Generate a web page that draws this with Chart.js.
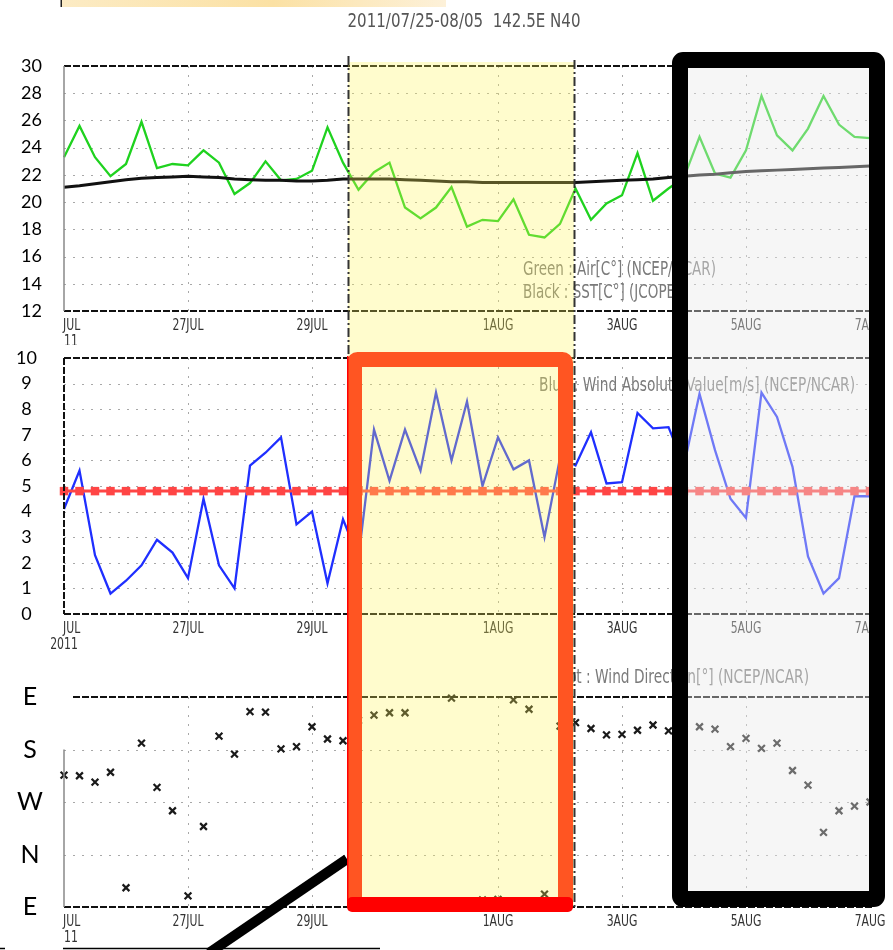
<!DOCTYPE html>
<html>
<head>
<meta charset="utf-8">
<script src="https://cdn.jsdelivr.net/npm/chart.js@4.4.1/dist/chart.umd.min.js"></script>
<style>
  body { margin: 0; background: #fff; width: 893px; height: 950px; overflow: hidden; position: relative; }
  canvas { position: absolute; left: 0; }
</style>
</head>
<body>
<canvas id="airChart" width="893" height="305" style="top:40px"></canvas>
<canvas id="windChart" width="893" height="315" style="top:340px"></canvas>
<canvas id="dirChart" width="893" height="295" style="top:655px"></canvas>
<canvas id="marks" width="893" height="950" style="top:0"></canvas>
<script>
// 6-hourly steps from 25JUL 00Z to 7AUG 00Z
const dayNames = ['25JUL','26JUL','27JUL','28JUL','29JUL','30JUL','31JUL','1AUG','2AUG','3AUG','4AUG','5AUG','6AUG'];
const times = [];
dayNames.forEach(d => ['00Z','06Z','12Z','18Z'].forEach(h => times.push(d + ' ' + h)));
times.push('7AUG 00Z');

const tickDays = ['25JUL','27JUL','29JUL','1AUG','3AUG','5AUG','7AUG'];

// Green : Air[C] (NCEP/NCAR)
const airTemp = [23.3, 25.6, 23.3, 21.9, 22.8, 25.9, 22.5, 22.8, 22.7, 23.8,
                 22.9, 20.6, 21.4, 23.0, 21.6, 21.7, 22.3, 25.5, 22.9, 20.9,
                 22.2, 22.9, 19.6, 18.8, 19.6, 21.1, 18.2, 18.7, 18.6, 20.2,
                 17.6, 17.4, 18.4, 21.0, 18.7, 19.9, 20.5, 23.6, 20.1, 21.0,
                 21.8, 24.8, 22.1, 21.8, 23.8, 27.8, 24.9, 23.8, 25.4, 27.8,
                 25.7, 24.8, 24.7];
// Black : SST[C] (JCOPE)
const sst = [21.1, 21.2, 21.35, 21.5, 21.65, 21.75, 21.8, 21.85, 21.9, 21.85,
             21.8, 21.7, 21.65, 21.6, 21.6, 21.55, 21.55, 21.6, 21.7, 21.7,
             21.7, 21.7, 21.65, 21.6, 21.55, 21.5, 21.5, 21.45, 21.45, 21.45,
             21.45, 21.45, 21.45, 21.45, 21.5, 21.55, 21.6, 21.65, 21.7, 21.8,
             21.9, 22.0, 22.05, 22.15, 22.25, 22.3, 22.35, 22.4, 22.45, 22.5,
             22.55, 22.6, 22.65];
// Blue : Wind Absolute Value[m/s] (NCEP/NCAR)
const windSpeed = [4.1, 5.6, 2.3, 0.8, 1.3, 1.9, 2.9, 2.4, 1.4, 4.5,
                   1.9, 1.0, 5.8, 6.3, 6.9, 3.5, 4.0, 1.2, 3.7, 2.2,
                   7.2, 5.2, 7.2, 5.6, 8.65, 6.0, 8.3, 5.0, 6.9, 5.65,
                   6.0, 3.0, 6.1, 5.8, 7.1, 5.1, 5.15, 7.85, 7.25, 7.3,
                   5.8, 8.6, 6.4, 4.5, 3.75, 8.65, 7.7, 5.75, 2.25, 0.8,
                   1.4, 4.6, 4.6];
const windLevel = 4.8;
// Dot : Wind Direction[deg] (NCEP/NCAR)
const windDir = [226, 225, 214, 231, 33, 281, 205, 165, 19, 138,
                 293, 262, 335, 334, 271, 275, 309, 288, 285, 320,
                 329, 333, 333, 4, 6, 358, 2, 12, 13, 355,
                 339, 22, 310, 316, 306, 295, 296, 303, 312, 302,
                 305, 309, 305, 275, 289, 272, 281, 234, 209, 128,
                 165, 173, 180];
const dirTicks = {0: 'E', 90: 'N', 180: 'W', 270: 'S', 360: 'E'};

const GRADS = '"Liberation Sans Narrow", "DejaVu Sans Condensed", sans-serif';

function textK(ctx, str, size, width) {
  ctx.save();
  ctx.font = size + 'px ' + GRADS;
  const k = width / ctx.measureText(str).width;
  ctx.restore();
  return k;
}
function fitText(ctx, str, x, y, size, k, align, color) {
  ctx.save();
  ctx.font = size + 'px ' + GRADS;
  ctx.fillStyle = color;
  ctx.textBaseline = 'middle';
  ctx.textAlign = 'left';
  const w = ctx.measureText(str).width * k;
  const x0 = align === 'left' ? x : align === 'right' ? x - w : x - w / 2;
  ctx.translate(x0, y);
  ctx.scale(k, 1);
  ctx.fillText(str, 0, 0);
  ctx.restore();
}
function seg(ctx, x1, y1, x2, y2) {
  ctx.beginPath(); ctx.moveTo(x1, y1); ctx.lineTo(x2, y2); ctx.stroke();
}

function decor(cfg) {
  return {
    id: 'decor',
    beforeDatasetsDraw(chart) {
      const {ctx, chartArea: a, scales: {x, y}} = chart;
      ctx.save();
      ctx.strokeStyle = '#a8a8a8';
      ctx.lineWidth = 1;
      ctx.setLineDash([2, 7]);
      cfg.gridY.forEach(v => {
        const py = Math.round(y.getPixelForValue(v)) + 0.5;
        seg(ctx, a.left, py, a.right, py);
      });
      tickDays.slice(1).forEach(d => {
        const px = Math.round(x.getPixelForValue(times.indexOf(d + ' 00Z'))) + 0.5;
        seg(ctx, px, a.top, px, a.bottom);
      });
      ctx.restore();
    },
    afterDraw(chart) {
      const {ctx, chartArea: a, scales: {x}} = chart;
      ctx.save();
      // frame
      ctx.strokeStyle = '#111';
      ctx.lineWidth = 2;
      ctx.setLineDash([7, 2]);
      seg(ctx, cfg.topFrom || a.left, a.top, a.right, a.top);
      seg(ctx, a.left, a.bottom, a.right + (cfg.bottomExtra || 0), a.bottom);
      ctx.setLineDash(cfg.leftDash ? [7, 2] : []);
      ctx.strokeStyle = cfg.leftDash ? '#111' : '#888';
      ctx.lineWidth = cfg.leftDash ? 2 : 1.5;
      seg(ctx, a.left, cfg.leftFrom ? chart.scales.y.getPixelForValue(cfg.leftFrom) : a.top, a.left, a.bottom);
      ctx.restore();

      // time labels
      const kx = textK(ctx, '27JUL', 15, 31);
      tickDays.forEach((d, j) => {
        const px = x.getPixelForValue(times.indexOf(d + ' 00Z'));
        if (j === 0) {
          fitText(ctx, 'JUL', px - 1, a.bottom + 15, 15, kx, 'left', '#333');
          if (cfg.fullYear) fitText(ctx, '2011', px, a.bottom + 31, 15, kx, 'center', '#333');
          else fitText(ctx, '11', px, a.bottom + 31, 15, kx, 'left', '#333');
        } else {
          fitText(ctx, d, px, a.bottom + 15, 15, kx, 'center', '#333');
        }
      });

      // legend text
      const kl = cfg.legendK || textK(ctx, cfg.legend[0].text, 19, cfg.legend[0].width);
      cfg.legend.forEach(l => {
        const ly = l.from === 'top' ? a.top + l.dy : a.bottom + l.dy;
        fitText(ctx, l.text, l.x, ly, 19, kl, l.align, '#7a7a7a');
      });
    }
  };
}

function options(yOpts, pad) {
  return {
    responsive: false,
    animation: false,
    devicePixelRatio: 1,
    layout: {padding: pad, autoPadding: false},
    plugins: {legend: {display: false}, tooltip: {enabled: false}},
    elements: {line: {tension: 0}, point: {radius: 0}},
    scales: {
      x: {type: 'category', display: false, offset: false},
      y: Object.assign({
        grid: {display: false, drawTicks: false},
        border: {display: false},
        afterFit(s) { s.width = 64; s.paddingTop = 0; s.paddingBottom = 0; }
      }, yOpts)
    }
  };
}

const yFont = {family: 'Lato', size: 18};

new Chart(document.getElementById('airChart'), {
  type: 'line',
  data: {
    labels: times,
    datasets: [
      {data: sst, borderColor: '#111', borderWidth: 3},
      {data: airTemp, borderColor: '#1fd21f', borderWidth: 2.3}
    ]
  },
  options: options({
    min: 12, max: 30,
    ticks: {stepSize: 2, color: '#000', font: yFont, padding: 22, crossAlign: 'near'}
  }, {top: 26, right: 23, bottom: 34, left: 0}),
  plugins: [decor({
    gridY: [14, 16, 18, 20, 22, 24, 26, 28],
    legend: [
      {text: 'Green : Air[C°] (NCEP/NCAR)', x: 523, from: 'bottom', dy: -41, width: 193, align: 'left'},
      {text: 'Black : SST[C°] (JCOPE)', x: 523, from: 'bottom', dy: -18, width: 193, align: 'left'}
    ]
  })]
});

new Chart(document.getElementById('windChart'), {
  type: 'line',
  data: {
    labels: times,
    datasets: [
      {data: times.map(() => windLevel), borderColor: '#ff4545', borderWidth: 3,
       pointStyle: 'rect', pointRadius: 6, pointBackgroundColor: '#ff4545', pointBorderWidth: 0, clip: 8},
      {data: windSpeed, borderColor: '#1f2fff', borderWidth: 2.3}
    ]
  },
  options: options({
    min: 0, max: 10,
    ticks: {stepSize: 1, color: '#000', font: yFont, padding: 27, crossAlign: 'center'}
  }, {top: 18, right: 23, bottom: 41, left: 0}),
  plugins: [decor({
    gridY: [1, 2, 3, 4, 5, 6, 7, 8, 9],
    leftDash: true,
    fullYear: true,
    legend: [
      {text: 'Blue : Wind Absolute Value[m/s] (NCEP/NCAR)', x: 855, from: 'top', dy: 28, width: 316, align: 'right'}
    ]
  })]
});

const c3 = document.getElementById('dirChart').getContext('2d');
const kWind = textK(c3, 'Blue : Wind Absolute Value[m/s] (NCEP/NCAR)', 19, 316);

new Chart(document.getElementById('dirChart'), {
  type: 'line',
  data: {
    labels: times,
    datasets: [
      {data: windDir, showLine: false, pointStyle: 'crossRot', pointRadius: 4.8,
       pointBorderWidth: 2.2, pointBorderColor: '#1a1a1a', clip: 8}
    ]
  },
  options: options({
    min: 0, max: 360,
    ticks: {stepSize: 90, color: '#000', font: {family: 'Lato', size: 25}, padding: 21,
            crossAlign: 'center', callback: v => dirTicks[v]}
  }, {top: 42, right: 23, bottom: 43, left: 0}),
  plugins: [decor({
    gridY: [90, 180, 270],
    topFrom: 73,
    leftFrom: 270,
    bottomExtra: 2,
    legendK: kWind,
    legend: [
      {text: 'Dot : Wind Direction[°] (NCEP/NCAR)', x: 809, from: 'top', dy: -19, width: 205, align: 'right'}
    ]
  })]
});

// ---- slide annotations on top ----
function roundPath(c, x, y, w, h, r) {
  c.beginPath();
  c.moveTo(x + r, y);
  c.lineTo(x + w - r, y); c.arcTo(x + w, y, x + w, y + r, r);
  c.lineTo(x + w, y + h - r); c.arcTo(x + w, y + h, x + w - r, y + h, r);
  c.lineTo(x + r, y + h); c.arcTo(x, y + h, x, y + h - r, r);
  c.lineTo(x, y + r); c.arcTo(x, y, x + r, y, r);
  c.closePath();
}

const m = document.getElementById('marks').getContext('2d');

const grad = m.createLinearGradient(62, 0, 446, 0);
grad.addColorStop(0, '#fcebc4');
grad.addColorStop(0.55, '#fbe1a4');
grad.addColorStop(1, '#fdf1d9');
m.fillStyle = grad;
m.fillRect(62, 0, 384, 7);
m.fillStyle = '#222';
m.fillRect(60.5, 0, 1.5, 7);

fitText(m, '2011/07/25-08/05  142.5E N40', 464, 22, 20,
        textK(m, '2011/07/25-08/05  142.5E N40', 20, 233), 'center', '#555');

// highlighted period
m.fillStyle = 'rgba(255,245,88,0.3)';
m.fillRect(348, 62, 226, 843);
// faded right part
m.fillStyle = 'rgba(232,232,232,0.4)';
m.fillRect(680, 60, 197, 839);

m.strokeStyle = '#333';
m.lineWidth = 2;
m.setLineDash([9, 3, 2, 3]);
seg(m, 348.5, 56, 348.5, 905);
seg(m, 574.5, 60, 574.5, 910);
m.setLineDash([]);

// pointer line
m.strokeStyle = '#000';
m.lineWidth = 10;
m.lineCap = 'butt';
seg(m, 347, 859, 209, 953);

m.lineWidth = 1.5;
seg(m, 0, 948.5, 5, 948.5);
seg(m, 63, 948.5, 380, 948.5);

// red frame
m.strokeStyle = '#ff5522';
m.lineWidth = 15;
roundPath(m, 354.5, 359.5, 211, 545, 3);
m.stroke();
m.fillStyle = '#ff0000';
roundPath(m, 347, 897, 226, 15, 5);
m.fill();
m.fillRect(347, 356, 1.5, 545);

// black frame
m.strokeStyle = '#000';
m.lineWidth = 16;
roundPath(m, 680, 60, 197, 839, 3);
m.stroke();
</script>
</body>
</html>
